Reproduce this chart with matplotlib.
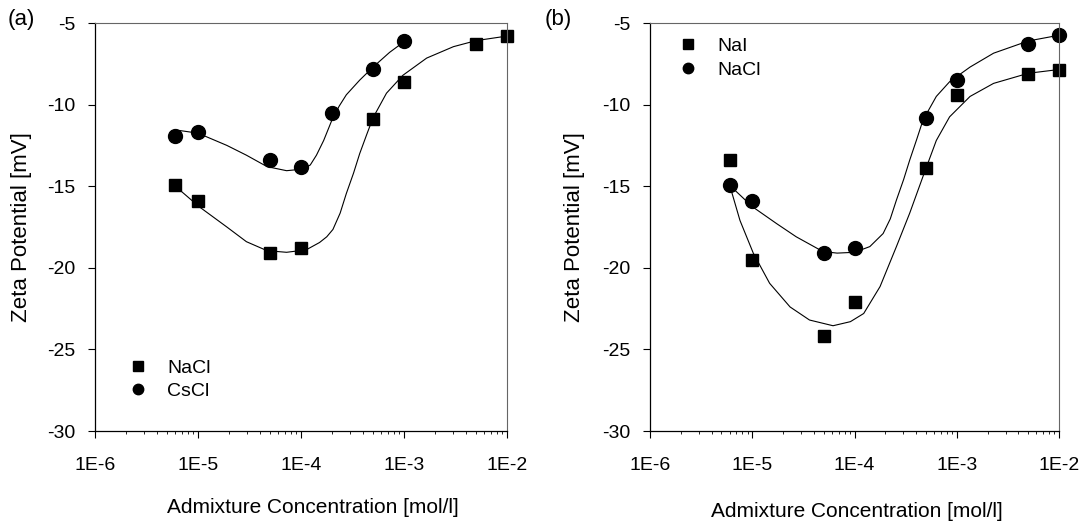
import numpy as np
import matplotlib
matplotlib.use('Agg')
import matplotlib.pyplot as plt
from matplotlib.lines import Line2D
from matplotlib.ticker import LogLocator, NullFormatter

plt.rcParams['font.family'] = ['Liberation Sans', 'DejaVu Sans']

# 测量点 (mol/l, mV)
conc = [6e-6, 1e-5, 5e-5, 1e-4, 5e-4, 1e-3, 5e-3, 1e-2]
a_nacl = [-14.9, -15.9, -19.1, -18.8, -10.9, -8.6, -6.3, -5.8]
a_cscl_x = [6e-6, 1e-5, 5e-5, 1e-4, 2e-4, 5e-4, 1e-3]
a_cscl = [-11.9, -11.7, -13.4, -13.8, -10.5, -7.8, -6.1]
b_nai = [-13.4, -19.5, -24.2, -22.1, -13.9, -9.4, -8.1, -7.85]
b_nacl = [-14.9, -15.9, -19.1, -18.8, -10.8, -8.5, -6.3, -5.75]

# 拟合曲线（从图上读取，log10 浓度）
a_nacl_fit_lx = [-5.22, -4.99, -4.72, -4.53, -4.33, -4.14, -3.95, -3.82, -3.75,
                 -3.69, -3.62, -3.56, -3.49, -3.43, -3.36, -3.30, -3.17, -3.01,
                 -2.78, -2.52, -2.30, -2.0]
a_nacl_fit = [-15.0, -16.25, -17.5, -18.4, -18.95, -19.05, -18.9, -18.45, -18.1,
              -17.65, -16.65, -15.45, -14.2, -13.0, -11.8, -10.8, -9.3, -8.2,
              -7.15, -6.45, -6.08, -5.8]
a_cscl_fit_lx = [-5.22, -5.0, -4.72, -4.53, -4.33, -4.14, -3.98, -3.91, -3.85,
                 -3.78, -3.70, -3.63, -3.56, -3.43, -3.30, -3.14, -3.0]
a_cscl_fit = [-11.55, -11.75, -12.5, -13.1, -13.8, -14.05, -13.95, -13.7, -13.1,
              -12.2, -10.95, -10.1, -9.4, -8.5, -7.7, -6.8, -6.15]
b_nacl_fit_lx = [-5.22, -5.0, -4.76, -4.57, -4.31, -4.17, -4.0, -3.85, -3.72,
                 -3.65, -3.59, -3.52, -3.46, -3.39, -3.33, -3.20, -3.07, -2.87,
                 -2.64, -2.30, -2.0]
b_nacl_fit = [-14.95, -16.25, -17.3, -18.1, -19.0, -19.1, -19.05, -18.7, -17.9,
              -17.0, -15.85, -14.6, -13.4, -12.1, -10.95, -9.5, -8.6, -7.7,
              -6.85, -6.1, -5.75]
b_nai_fit_lx = [-5.22, -5.12, -4.99, -4.83, -4.63, -4.44, -4.21, -4.04, -3.91,
                -3.75, -3.59, -3.46, -3.33, -3.20, -3.07, -2.87, -2.64, -2.30, -2.0]
b_nai_fit = [-14.95, -17.1, -19.1, -20.95, -22.4, -23.2, -23.55, -23.3, -22.8,
             -21.15, -18.7, -16.65, -14.4, -12.2, -10.75, -9.5, -8.7, -8.08, -7.85]

xticks = [1e-6, 1e-5, 1e-4, 1e-3, 1e-2]
xticklabels = ['1E-6', '1E-5', '1E-4', '1E-3', '1E-2']
yticks = [-30, -25, -20, -15, -10, -5]

fig = plt.figure(figsize=(10.85, 5.23), dpi=100)
axa = fig.add_axes([95/1085, 92/523, 412/1085, 408/523])
axb = fig.add_axes([650/1085, 92/523, 409/1085, 408/523])


def setup(ax):
    ax.set_xscale('log')
    ax.set_xlim(1e-6, 1e-2)
    ax.set_ylim(-30, -5)
    ax.set_xticks(xticks)
    ax.set_xticklabels(xticklabels)
    ax.set_yticks(yticks)
    ax.set_yticklabels([str(v) for v in yticks])
    ax.xaxis.set_minor_locator(LogLocator(base=10, subs=np.arange(2, 10)))
    ax.xaxis.set_minor_formatter(NullFormatter())
    ax.tick_params(axis='x', which='major', direction='out', length=5, width=0.8,
                   pad=14, labelsize=14)
    ax.tick_params(axis='x', which='minor', direction='out', length=2.5, width=0.6)
    ax.tick_params(axis='y', direction='out', length=5, width=0.8, pad=9,
                   labelsize=14)
    for s in ['left', 'bottom']:
        ax.spines[s].set_linewidth(0.9)
    for s in ['top', 'right']:
        ax.spines[s].set_linewidth(0.8)
        ax.spines[s].set_color('#666666')
    ax.set_ylabel('Zeta Potential [mV]', fontsize=16)
    ax.set_xlabel('Admixture Concentration [mol/l]', fontsize=15)


setup(axa)
setup(axb)
axa.yaxis.set_label_coords(-0.153, 0.5)
axb.yaxis.set_label_coords(-0.159, 0.5)
axa.xaxis.set_label_coords(0.53, -0.164)
axb.xaxis.set_label_coords(0.506, -0.174)

# (a)
axa.plot(10 ** np.array(a_nacl_fit_lx), a_nacl_fit, color='black', lw=0.8)
axa.plot(10 ** np.array(a_cscl_fit_lx), a_cscl_fit, color='black', lw=0.8)
axa.plot(conc, a_nacl, 's', color='black', ms=9, clip_on=False)
axa.plot(a_cscl_x, a_cscl, 'o', color='black', ms=10, clip_on=False)

# (b)
axb.plot(10 ** np.array(b_nacl_fit_lx), b_nacl_fit, color='black', lw=0.8)
axb.plot(10 ** np.array(b_nai_fit_lx), b_nai_fit, color='black', lw=0.8)
axb.plot(conc, b_nai, 's', color='black', ms=9, clip_on=False)
axb.plot(conc, b_nacl, 'o', color='black', ms=10, clip_on=False)


def legend(ax, labels, anchor):
    h = [Line2D([], [], ls='none', marker='s', color='black', ms=6.5),
         Line2D([], [], ls='none', marker='o', color='black', ms=7.5)]
    ax.legend(h, labels, loc='center left', bbox_to_anchor=anchor, frameon=False,
              fontsize=14, handlelength=1.0, handletextpad=1.0, borderpad=0,
              borderaxespad=0, labelspacing=0.3)


legend(axa, ['NaCl', 'CsCl'], (0.081, 0.126))
legend(axb, ['NaI', 'NaCl'], (0.069, 0.914))

fig.text(8/1085, 1 - 20/523, '(a)', fontsize=16, va='center')
fig.text(545/1085, 1 - 20/523, '(b)', fontsize=16, va='center')

fig.savefig('out.png', dpi=100)
